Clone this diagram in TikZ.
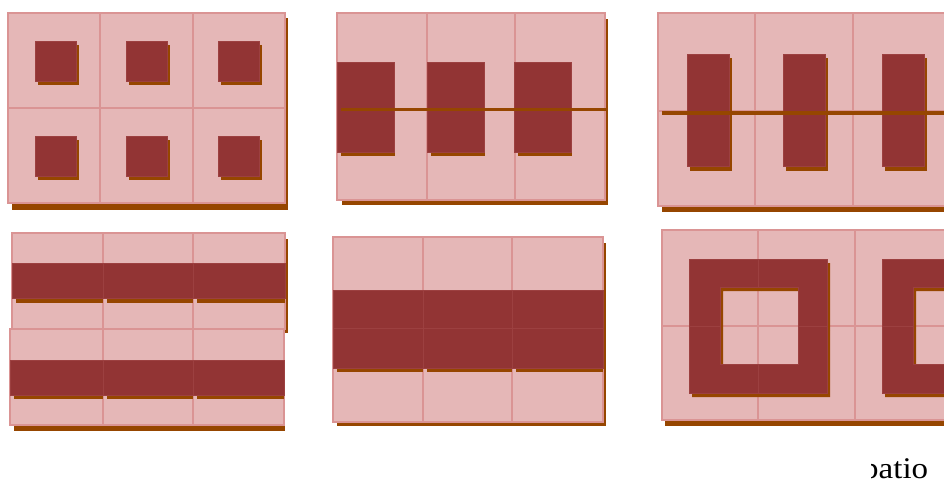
\documentclass[tikz,border=0pt]{standalone}
\usepackage{fontspec}
\setmainfont{Liberation Serif}
\definecolor{tilepink}{RGB}{229,183,183}
\definecolor{tileline}{RGB}{218,148,148}
\definecolor{darkred}{RGB}{146,52,52}
\definecolor{darkline}{RGB}{156,64,64}
\definecolor{shadowbrown}{RGB}{150,70,0}
\tikzset{
  tilebox/.style={fill=tilepink, draw=tileline, line width=1.7pt},
  darkbox/.style={fill=darkred, draw=darkline, line width=0.5pt},
  shadowbox/.style={fill=shadowbrown},
}
\begin{document}
\begin{tikzpicture}[x=1pt,y=-1pt]
\useasboundingbox (0,0) rectangle (944,482);
\fill[white] (0,0) rectangle (944,482);

% ---------- Panel 1: squares ----------
\fill[shadowbox] (12,18) rectangle (287.5,209.5);
\foreach \xa/\xb in {8/100,100/193,193/285}
  \foreach \ya/\yb in {13/108,108/203}
    \draw[tilebox] (\xa,\ya) rectangle (\xb,\yb);
\foreach \x in {35,126,218}
  \foreach \y in {41,136} {
    \fill[shadowbox] (\x+3,\y+4) rectangle +(41,40);
    \fill[darkbox] (\x,\y) rectangle +(41,40);
  }

% ---------- Panel 2: wide blocks across rows ----------
\fill[shadowbox] (342,19) rectangle (607.5,205);
\foreach \xa/\xb in {337/427,427/515,515/605}
  \foreach \ya/\yb in {13/109,109/200}
    \draw[tilebox] (\xa,\ya) rectangle (\xb,\yb);
\foreach \x in {337,427,514} {
  \fill[shadowbox] (\x+4,66) rectangle +(54,90);
  \fill[darkbox] (\x,62) rectangle +(57,90);
}
\fill[shadowbox] (341,108) rectangle (606,111);

% ---------- Panel 3: tall blocks across rows ----------
\fill[shadowbox] (662,19) rectangle (950,212);
\foreach \xa/\xb in {658/755,755/853,853/950}
  \foreach \ya/\yb in {13/111,111/206}
    \draw[tilebox] (\xa,\ya) rectangle (\xb,\yb);
\foreach \x in {687,783,882} {
  \fill[shadowbox] (\x+3,58) rectangle +(42,113);
  \fill[darkbox] (\x,54) rectangle +(42,112);
}
\fill[shadowbox] (662,111) rectangle (950,114.5);

% ---------- Panel 4: two stripes ----------
\fill[shadowbox] (16,239) rectangle (287.5,333);
\foreach \xa/\xb in {12/103,103/193,193/285} {
  \draw[tilebox] (\xa,233) rectangle (\xb,329);
}
\foreach \xa/\xb in {12/103,103/193,193/285} {
  \fill[shadowbox] (\xa+4,298) rectangle (\xb,302.5);
  \fill[darkbox] (\xa,263) rectangle (\xb,298);
}
\fill[shadowbox] (14,338) rectangle (285,431);
\foreach \xa/\xb in {10/103,103/193,193/284} {
  \draw[tilebox] (\xa,329) rectangle (\xb,425);
}
\foreach \xa/\xb in {10/103,103/193,193/284} {
  \fill[shadowbox] (\xa+4,395) rectangle (\xb,399);
  \fill[darkbox] (\xa,360) rectangle (\xb,395);
}

% ---------- Panel 5: one wide band ----------
\fill[shadowbox] (337,243) rectangle (605.5,425.5);
\foreach \xa/\xb in {333/423,423/512,512/603}
  \foreach \ya/\yb in {237/328,328/422}
    \draw[tilebox] (\xa,\ya) rectangle (\xb,\yb);
\foreach \xa/\xb in {333/423,423/512,512/603} {
  \fill[shadowbox] (\xa+4,368) rectangle (\xb,372);
  \fill[darkbox] (\xa,290) rectangle (\xb,328);
  \fill[darkbox] (\xa,328) rectangle (\xb,368);
}

% ---------- Panel 6: rings ----------
\fill[shadowbox] (665,236) rectangle (950,425.5);
\foreach \xa/\xb in {662/758,758/855,855/951}
  \foreach \ya/\yb in {230/326,326/420}
    \draw[tilebox] (\xa,\ya) rectangle (\xb,\yb);
\foreach \d in {0,193} {
  \begin{scope}[xshift=\d pt+3pt, yshift=-4pt]
    \fill[shadowbox] (689,259) -- (758,259) -- (758,287) -- (720,287) -- (720,326) -- (689,326) -- cycle;
    \fill[shadowbox] (689,326) -- (720,326) -- (720,364) -- (758,364) -- (758,393) -- (689,393) -- cycle;
  \end{scope}
}
\begin{scope}[xshift=3pt, yshift=-4pt]
  \fill[shadowbox] (758,259) -- (827,259) -- (827,326) -- (798,326) -- (798,287) -- (758,287) -- cycle;
  \fill[shadowbox] (798,326) -- (827,326) -- (827,393) -- (758,393) -- (758,364) -- (798,364) -- cycle;
\end{scope}
\foreach \d in {0,193} {
  \begin{scope}[xshift=\d pt]
    \filldraw[darkbox] (689,259) -- (758,259) -- (758,287) -- (720,287) -- (720,326) -- (689,326) -- cycle;
    \filldraw[darkbox] (689,326) -- (720,326) -- (720,364) -- (758,364) -- (758,393) -- (689,393) -- cycle;
  \end{scope}
}
\filldraw[darkbox] (758,259) -- (827,259) -- (827,326) -- (798,326) -- (798,287) -- (758,287) -- cycle;
\filldraw[darkbox] (798,326) -- (827,326) -- (827,393) -- (758,393) -- (758,364) -- (798,364) -- cycle;

% ---------- cropped caption ----------
\begin{scope}
  \clip (871.5,440) rectangle (944,482);
  \node[anchor=base west, inner sep=0pt, xscale=1.1, font=\fontsize{30}{36}\selectfont] (caption) at (862,478) {patio};
\end{scope}
\end{tikzpicture}
\end{document}
